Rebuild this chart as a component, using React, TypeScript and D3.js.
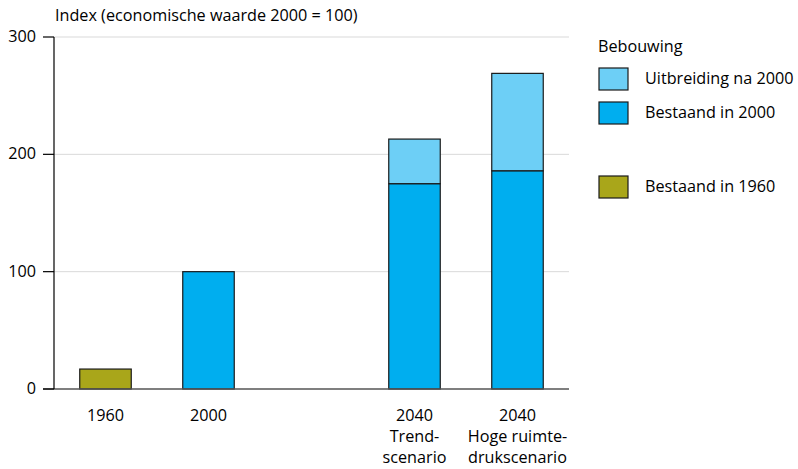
import React from "react";
import * as d3 from "d3";

const categories = ["1960", "2000", "", "2040 trend", "2040 hoog"];
const categoryLabels: string[][] = [["1960"], ["2000"], [], ["2040", "Trend-", "scenario"], ["2040", "Hoge ruimte-", "drukscenario"]];
const bestaand1960 = [17, 0, 0, 0, 0];
const bestaand2000 = [0, 100, 0, 175, 186];
const uitbreiding = [0, 0, 0, 38, 83];
const yTicks = [0, 100, 200, 300];

const legendItems = [
  { label: "Uitbreiding na 2000", color: "#6dcff6", y: 68 },
  { label: "Bestaand in 2000", color: "#00aeef", y: 102 },
  { label: "Bestaand in 1960", color: "#a9a61a", y: 176 },
];

export default function App() {
  const W = 798, H = 469;
  const left = 54, right = 569, top = 37, bottom = 389;
  const x = d3.scaleBand().domain(categories).range([left, right]).paddingInner(0.5).paddingOuter(0.25);
  const y = d3.scaleLinear().domain([0, 300]).range([bottom, top]);
  const font = "'Open Sans', sans-serif";
  const fs = 16.2;
  const bw = x.bandwidth();

  const segs: { k: string; x: number; y0: number; y1: number; color: string }[] = [];
  categories.forEach((c, i) => {
    const bx = x(c)!;
    if (bestaand1960[i] > 0) segs.push({ k: c + "a", x: bx, y0: 0, y1: bestaand1960[i], color: "#a9a61a" });
    if (bestaand2000[i] > 0) segs.push({ k: c + "b", x: bx, y0: 0, y1: bestaand2000[i], color: "#00aeef" });
    if (uitbreiding[i] > 0) segs.push({ k: c + "c", x: bx, y0: bestaand2000[i], y1: bestaand2000[i] + uitbreiding[i], color: "#6dcff6" });
  });

  return (
    <svg width={W} height={H} style={{ position: "absolute", left: 0, top: 0, background: "#fff" }} fontFamily={font}>
      <text x={55} y={21} fontSize={fs} fill="#000">Index (economische waarde 2000 = 100)</text>
      {yTicks.filter((t) => t > 0).map((t) => (
        <line key={"g" + t} x1={left} x2={right} y1={y(t)} y2={y(t)} stroke="#d9d9d9" strokeWidth={1} />
      ))}
      {segs.map((s) => (
        <rect key={s.k} x={s.x} y={y(s.y1)} width={bw} height={y(s.y0) - y(s.y1)} fill={s.color} stroke="#1a1a1a" strokeWidth={1.2} />
      ))}
      <line x1={43} x2={right} y1={bottom} y2={bottom} stroke="#555" strokeWidth={1.5} />
      <line x1={left} x2={left} y1={top} y2={bottom} stroke="#000" strokeWidth={1.2} />
      {yTicks.map((t) => (
        <g key={"t" + t}>
          <line x1={43} x2={left} y1={y(t)} y2={y(t)} stroke="#000" strokeWidth={1.2} />
          <text x={36} y={y(t) + 5} textAnchor="end" fontSize={fs} fill="#000">{t}</text>
        </g>
      ))}
      {categories.map((c, i) => (
        <text key={"x" + i} x={x(c)! + bw / 2} textAnchor="middle" fontSize={fs} fill="#000">
          {categoryLabels[i].map((l, j) => (
            <tspan key={j} x={x(c)! + bw / 2} y={421 + j * 21}>{l}</tspan>
          ))}
        </text>
      ))}
      <text x={598} y={52} fontSize={fs} fill="#000">Bebouwing</text>
      {legendItems.map((it) => (
        <g key={it.label}>
          <rect x={599} y={it.y} width={29} height={22} fill={it.color} stroke="#1a1a1a" strokeWidth={1.2} />
          <text x={645} y={it.y + 16} fontSize={fs} fill="#000">{it.label}</text>
        </g>
      ))}
    </svg>
  );
}
